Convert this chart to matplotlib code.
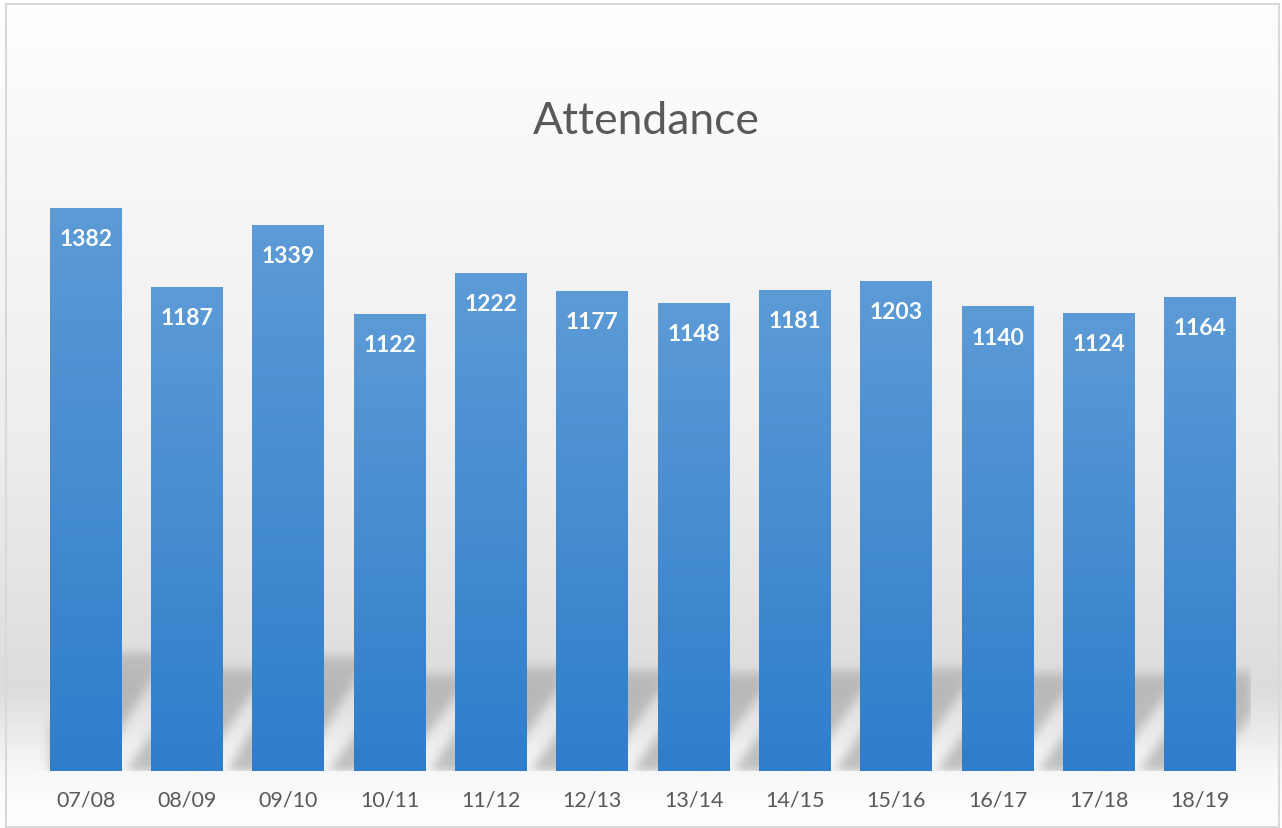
import numpy as np
import matplotlib
matplotlib.use('Agg')
import matplotlib.pyplot as plt
from matplotlib.colors import LinearSegmentedColormap
from matplotlib.patches import Rectangle

plt.rcParams['font.family'] = ['Lato', 'DejaVu Sans']

seasons = ['07/08', '08/09', '09/10', '10/11', '11/12', '12/13',
           '13/14', '14/15', '15/16', '16/17', '17/18', '18/19']
attendance = [1382, 1187, 1339, 1122, 1222, 1177, 1148, 1181, 1203, 1140, 1124, 1164]

W, H = 1282, 829
fig = plt.figure(figsize=(W / 100, H / 100), dpi=100)
fig.patch.set_facecolor('white')

# background of the chart area: white at the top, grey band near the floor
bg = fig.add_axes([0, 0, 1, 1], zorder=0)
rows = np.arange(H)
grey = np.interp(rows, [0, 200, 450, 690, 775, 810, 829],
                 [1.0, 0.965, 0.93, 0.865, 0.975, 0.995, 1.0])
img = np.dstack([np.repeat(grey[:, None], 2, axis=1)] * 3)
bg.imshow(img, extent=(0, W, H, 0), aspect='auto', interpolation='bilinear')
bg.add_patch(Rectangle((6, 5), 1273, 823, fill=False, ec='#d9d9d9', lw=1.5))
bg.set_xlim(0, W)
bg.set_ylim(H, 0)
bg.axis('off')

ax = fig.add_axes([35 / W, 57 / H, 1216 / W, 652 / H], zorder=1)
ax.patch.set_alpha(0)
ymax = 1600
x = np.arange(len(seasons))
bw = 0.71

# perspective shadows behind the bars
nx, ny = 1216, 200
sh_top = 400
xs = -0.5 + (np.arange(nx) + 0.5) / nx * len(seasons)
ys = (np.arange(ny) + 0.5) / ny * sh_top
XX, YY = np.meshgrid(xs, ys)
mask = np.zeros((ny, nx))
for xi, v in zip(x, attendance):
    hs = 0.21 * v
    t = YY / hs
    left = xi - bw / 2 - 0.25 + t * 0.7
    inside = (YY <= hs) & (XX >= left) & (XX <= left + bw)
    mask = np.maximum(mask, inside * (1 - 0.3 * t))
mask[XX < -bw / 2] = 0


def blur(a, s, axis):
    k = np.exp(-0.5 * (np.arange(-3 * s, 3 * s + 1) / s) ** 2)
    k /= k.sum()
    return np.apply_along_axis(lambda r: np.convolve(r, k, mode='same'), axis, a)


mask = blur(blur(mask, 5, 1), 6, 0)
shadow = np.zeros((ny, nx, 4))
shadow[..., :3] = 0.32
shadow[..., 3] = mask * 0.34
ax.imshow(shadow, origin='lower', extent=(-0.5, len(seasons) - 0.5, 0, sh_top),
          aspect='auto', interpolation='bilinear', zorder=1)

# bars with a vertical gradient
cmap = LinearSegmentedColormap.from_list('bar', ['#2f7dcb', '#5c9bd6'])
grad = np.linspace(0, 1, 256)[:, None]
bars = ax.bar(x, attendance, bw, color='none', edgecolor='none', zorder=3)
for b, v in zip(bars, attendance):
    x0 = b.get_x()
    im = ax.imshow(grad, origin='lower', cmap=cmap, aspect='auto',
                   extent=(x0, x0 + b.get_width(), 0, v), zorder=2)
    im.set_clip_path(b)

for xi, v in zip(x, attendance):
    ax.annotate(str(v), (xi, v), xytext=(0, -22), textcoords='offset points',
                ha='center', va='center', color='white', fontsize=16.5,
                fontweight='bold', zorder=4)

ax.set_xlim(-0.5, len(seasons) - 0.5)
ax.set_ylim(0, ymax)
ax.set_xticks(x, seasons)
ax.set_yticks([])
ax.tick_params(axis='x', length=0, pad=13, labelsize=15.5, labelcolor='#595959')
for s in ax.spines.values():
    s.set_visible(False)

fig.text(646 / W, 1 - 122 / H, 'Attendance', ha='center', va='center',
         fontsize=32, color='#595959')

fig.savefig('out.png', dpi=100)
